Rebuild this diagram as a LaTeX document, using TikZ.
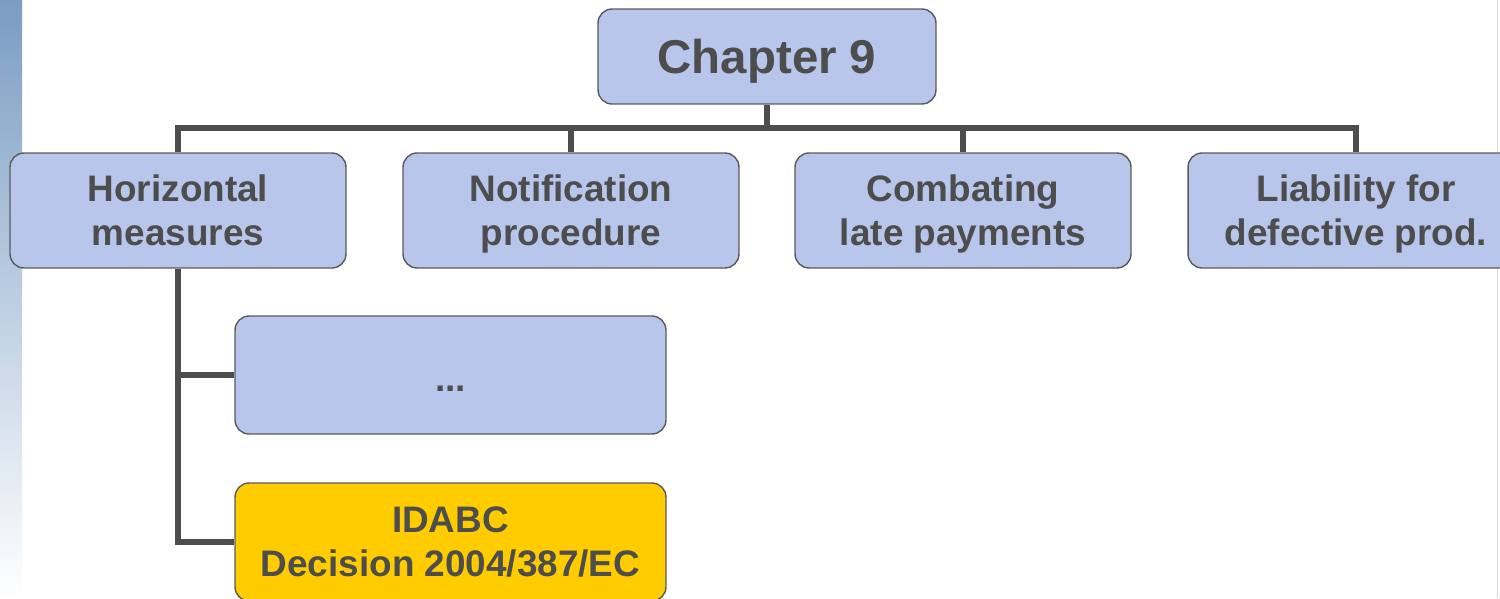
\documentclass[tikz,border=0pt]{standalone}
\usepackage{fontspec}
\setmainfont{Liberation Sans}
\usepackage{tikz}
\usetikzlibrary{arrows,shapes,positioning}
\pgfdeclarelayer{background}
\pgfsetlayers{background,main}
\definecolor{boxblue}{HTML}{B9C6EB}
\definecolor{boxgold}{HTML}{FFCC00}
\definecolor{ink}{HTML}{4D4D4D}
\definecolor{frame}{HTML}{5A5A5A}
\definecolor{stripa}{HTML}{7A9DC3}
\definecolor{stripb}{HTML}{A9C0D6}
\tikzstyle{topic}=[draw=frame,line width=0.8pt,fill=boxblue,rounded corners=0.28cm,text=ink,font=\fontsize{21}{25}\selectfont\bfseries,align=center,inner sep=0pt,text depth=0pt]
\tikzstyle{branch}=[topic,minimum width=6.72cm,minimum height=2.3cm]
\tikzstyle{leaf}=[topic,minimum width=8.62cm,minimum height=2.36cm]
\tikzstyle{edge} = [draw,ink,line width=3.4pt,-]

\begin{document}
\begin{tikzpicture}[x=0.02cm,y=-0.02cm]
    \useasboundingbox (0,0) rectangle (1500,598);
    % Slide strip on the left
    \begin{pgfonlayer}{background}
        \shade[top color=stripa,middle color=stripb,bottom color=white] (0,0) rectangle (22,598);
        \draw[gray!30,line width=0.5pt] (1497.5,0) -- (1497.5,598);
    \end{pgfonlayer}
    % The chapter on top
    \node[topic,minimum width=6.76cm,minimum height=1.9cm,font=\fontsize{27}{32}\selectfont\bfseries] (chap) at (767,56.5) {Chapter 9};
    % Second row
    \foreach \pos/\name/\txt in {{(178,210.5)/h1/Horizontal\\measures}, {(571,210.5)/h2/Notification\\procedure},
        {(963,210.5)/h3/Combating\\late payments}, {(1356,210.5)/h4/Liability for\\defective prod.}}
        \node[branch] (\name) at \pos {\txt};
    % Below the horizontal measures
    \node[leaf,text height=19pt] (dots) at (450.5,375) {...};
    \node[leaf,fill=boxgold] (idabc) at (450.5,542) {IDABC\\Decision 2004/387/EC};
    % Connect them
    \coordinate (bar) at (767,128);
    \path[edge] (chap.south) -- (bar);
    \path[edge] (h1.north) |- (bar) -| (h4.north);
    \foreach \dest in {h2, h3}
        \path[edge] (\dest.north) -- (\dest.north |- bar);
    \foreach \dest in {dots, idabc}
        \path[edge] (h1.south) |- (\dest.west);

\end{tikzpicture}
\end{document}
